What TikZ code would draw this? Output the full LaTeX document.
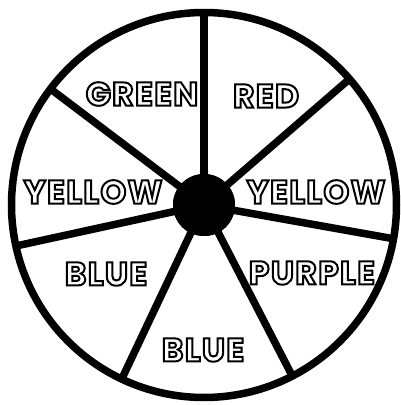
\documentclass[tikz,border=0pt]{standalone}
\usepackage{fontspec}
\newfontfamily\whlfont{Poppins}[LetterSpace=4]
\newcommand\outl[1]{\special{pdf:literal direct 1 Tr 2 w}#1\special{pdf:literal direct 0 Tr}}
\tikzset{whrim/.style={line width=7.5pt},
         whspk/.style={line width=7.5pt},
         whhub/.style={circle,fill=black,inner sep=0pt,minimum size=62pt},
         whlab/.style={font=\whlfont\bfseries\fontsize{33}{33}\selectfont,inner sep=0pt}}

\begin{document}
\begin{tikzpicture}[x=1pt,y=1pt]
    \useasboundingbox (0,0) rectangle (400,405);
    \draw[whrim] (204,200) circle (192.5);
    \foreach \a/\n in {90/s1,40.9/s2,-10.1/s3,-62.7/s4,-115.3/s5,-167.7/s6,142.9/s7}
      {\coordinate (\n) at ([shift={(\a:192.5)}]204,200);}
    \node[whhub] (hub) at (204,200) {};
    \foreach \n in {s1,s2,s3,s4,s5,s6,s7}
      {\draw[whspk] (hub.center) -- (\n);}
    \node[whhub] at (hub) {};
    % sector labels
    \foreach \x/\y/\n/\t in {142/311/lg/GREEN,266/309/lr/RED,93/213/ly/YELLOW,316/213/ry/YELLOW,
                             106/131/lb/BLUE,312/132/lp/PURPLE,203/55/bb/BLUE}
      {\node[whlab] (\n) at (\x,\y) {\outl{\t}};}
  \end{tikzpicture}
\end{document}
